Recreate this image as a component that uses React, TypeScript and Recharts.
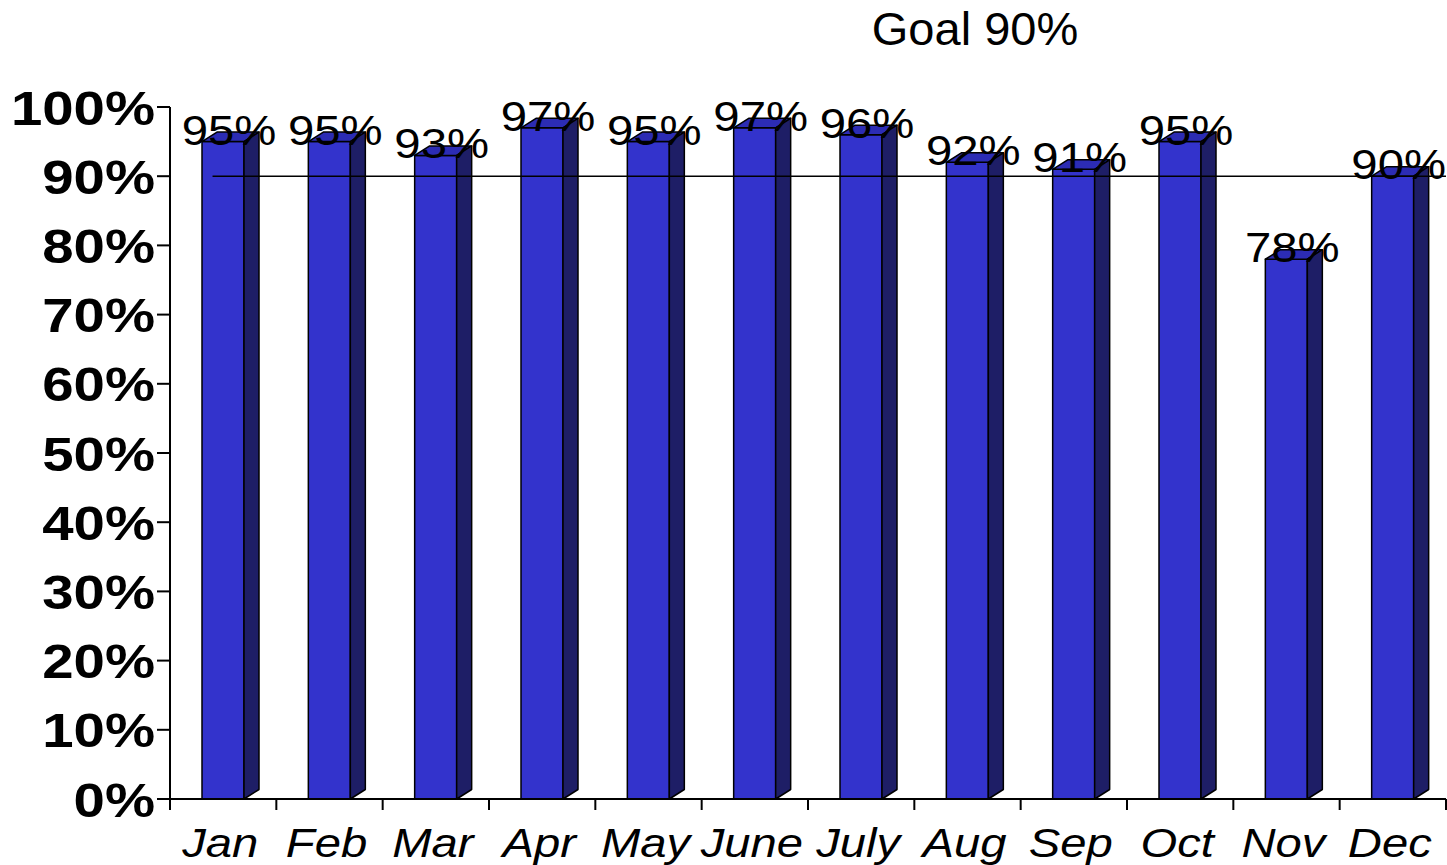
import { BarChart, Bar, XAxis, YAxis, ReferenceLine, LabelList } from "recharts";

const months = ["Jan", "Feb", "Mar", "Apr", "May", "June", "July", "Aug", "Sep", "Oct", "Nov", "Dec"];
const percents = [95, 95, 93, 97, 95, 97, 96, 92, 91, 95, 78, 90];
const yTicks = [0, 10, 20, 30, 40, 50, 60, 70, 80, 90, 100];
const goal = 90;

const data = months.map((m, i) => ({ month: m, value: percents[i] }));

const FONT = "'Liberation Sans', Arial, sans-serif";
const DX = 15;
const DY = 9.5;
const PLOT_W = 1447 - 170 - 1;

// 3D-looking bar: front, top, side
function Bar3D(props: any) {
  const { x, y, width, height } = props;
  if (height <= 0) return null;
  const top = `${x},${y} ${x + DX},${y - DY} ${x + width + DX},${y - DY} ${x + width},${y}`;
  const side = `${x + width},${y} ${x + width + DX},${y - DY} ${x + width + DX},${y + height - DY} ${x + width},${y + height}`;
  return (
    <g stroke="#000" strokeWidth={1.5} strokeLinejoin="round">
      <rect x={x} y={y} width={width} height={height} fill="#3333CC" />
      <polygon points={top} fill="#2C2CB4" />
      <polygon points={side} fill="#1E1E66" />
    </g>
  );
}

function YTick(props: any) {
  const { x, y, payload } = props;
  return (
    <g transform={`translate(${x},${y})`}>
      <text
        transform="scale(1.15,1)"
        textAnchor="end"
        dy="0.36em"
        fontFamily={FONT}
        fontWeight="bold"
        fontSize={49}
        fill="#000"
      >
        {payload.value}%
      </text>
    </g>
  );
}

// category label plus tick marks on the band edges
function XTick(props: any) {
  const { x, y, payload, index } = props;
  const step = PLOT_W / months.length;
  const last = index === months.length - 1;
  return (
    <g>
      <line x1={x - step / 2} x2={x - step / 2} y1={y} y2={y + 11} stroke="#000" strokeWidth={2} />
      {last && <line x1={x + step / 2} x2={x + step / 2} y1={y} y2={y + 11} stroke="#000" strokeWidth={2} />}
      <g transform={`translate(${x - 3},${y + 58})`}>
        <text
          transform="scale(1.18,1)"
          textAnchor="middle"
          fontFamily={FONT}
          fontStyle="italic"
          fontSize={40}
          fill="#000"
        >
          {payload.value}
        </text>
      </g>
    </g>
  );
}

function ValueLabel(props: any) {
  const { x, y, width, value } = props;
  return (
    <g transform={`translate(${x + width / 2 + 6},${y + 3})`}>
      <text
        transform="scale(1.1,1)"
        textAnchor="middle"
        fontFamily={FONT}
        fontSize={43}
        fill="#000"
      >
        {value}%
      </text>
    </g>
  );
}

function GoalLine(props: any) {
  const { x1, x2, y1, y2 } = props;
  const step = (x2 - x1) / months.length;
  return <line x1={x1 + step * 0.4} x2={x2} y1={y1} y2={y2} stroke="#000" strokeWidth={1.5} />;
}

export default function App() {
  return (
    <div style={{ position: "absolute", left: 0, top: 0, width: 1447, height: 865, background: "#fff" }}>
      <div
        style={{
          position: "absolute",
          left: 775,
          top: 5,
          width: 400,
          textAlign: "center",
          fontFamily: FONT,
          fontSize: 47,
          lineHeight: "47px",
          color: "#000",
        }}
      >
        Goal 90%
      </div>
      <BarChart
        width={1447}
        height={865}
        data={data}
        margin={{ top: 107, right: 1, bottom: 0, left: 0 }}
        barCategoryGap={0}
      >
        <XAxis
          dataKey="month"
          tick={<XTick />}
          tickLine={false}
          tickSize={0}
          tickMargin={0}
          height={66}
          interval={0}
          stroke="#000"
          strokeWidth={2}
        />
        <YAxis
          domain={[0, 100]}
          ticks={yTicks}
          tick={<YTick />}
          tickSize={13}
          tickMargin={2}
          width={170}
          stroke="#000"
          strokeWidth={2}
          interval={0}
        />
        <Bar dataKey="value" barSize={42} shape={<Bar3D />} isAnimationActive={false}>
          <LabelList dataKey="value" content={<ValueLabel />} />
        </Bar>
        <ReferenceLine y={goal} shape={<GoalLine />} />
      </BarChart>
    </div>
  );
}
